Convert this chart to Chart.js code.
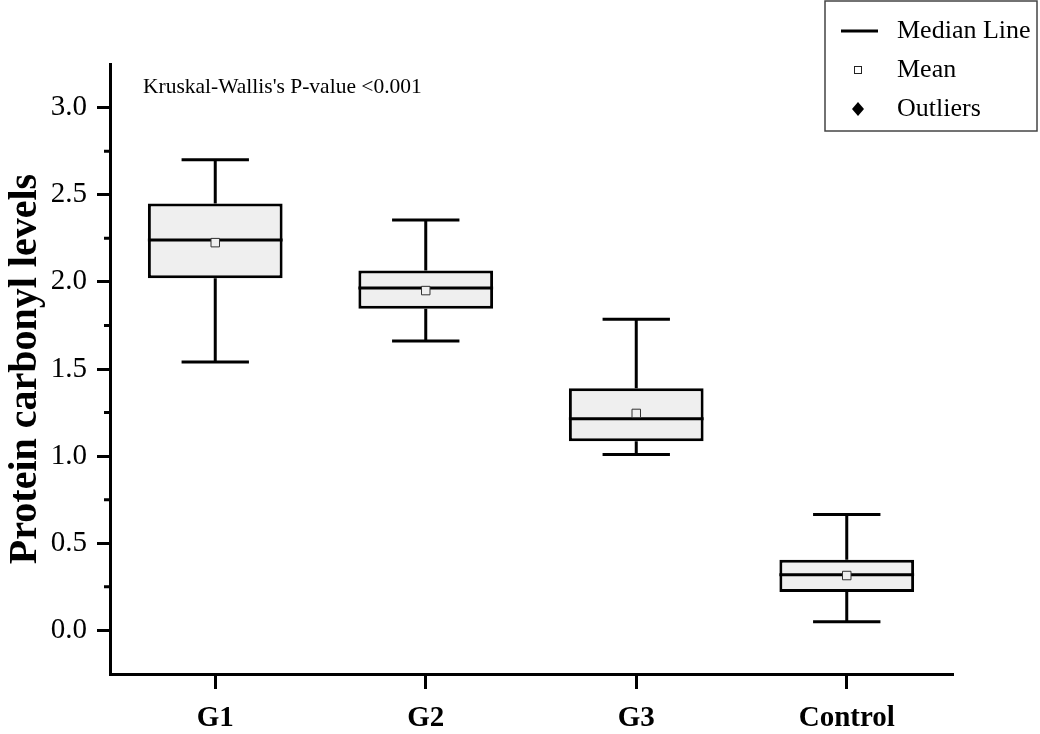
<!DOCTYPE html>
<html>
<head>
<meta charset="utf-8">
<script src="https://cdn.jsdelivr.net/npm/chart.js@4/dist/chart.umd.min.js"></script>
<style>
  body { margin: 0; background: #fff; }
  #wrap { width: 1040px; height: 734px; position: relative; }
</style>
</head>
<body>
<div id="wrap"><canvas id="myChart"></canvas></div>
<script>
// values
const categories = ['G1', 'G2', 'G3', 'Control']
const whiskerLow = [1.54, 1.66, 1.01, 0.05]
const q1 = [2.02, 1.845, 1.085, 0.22]
const medians = [2.24, 1.965, 1.215, 0.32]
const q3 = [2.45, 2.065, 1.39, 0.405]
const whiskerHigh = [2.70, 2.355, 1.785, 0.665]
const means = [2.225, 1.95, 1.245, 0.315]
const minorTicks = [0.25, 0.75, 1.25, 1.75, 2.25, 2.75]

const serif = "'Liberation Serif', 'Times New Roman', serif"

let isMajor = v => {
    let r = Math.round(v * 100) / 100
    return r >= 0 && r <= 3 && Math.abs(r * 2 - Math.round(r * 2)) < 1e-6
}

// whiskers + median on top of the boxes
const boxPlugin = {
    id: 'boxParts',
    afterDatasetDraw(chart, args) {
        if (args.index !== 0) return
        const ctx = chart.ctx
        const y = chart.scales.y
        const meta = args.meta
        ctx.save()
        ctx.strokeStyle = '#000'
        ctx.lineWidth = 3
        meta.data.forEach((bar, i) => {
            const half = bar.width / 2
            const cx = bar.x
            const cap = half / 2
            ctx.beginPath()
            // upper whisker
            ctx.moveTo(cx, y.getPixelForValue(q3[i]))
            ctx.lineTo(cx, y.getPixelForValue(whiskerHigh[i]))
            ctx.moveTo(cx - cap, y.getPixelForValue(whiskerHigh[i]))
            ctx.lineTo(cx + cap, y.getPixelForValue(whiskerHigh[i]))
            // lower whisker
            ctx.moveTo(cx, y.getPixelForValue(q1[i]))
            ctx.lineTo(cx, y.getPixelForValue(whiskerLow[i]))
            ctx.moveTo(cx - cap, y.getPixelForValue(whiskerLow[i]))
            ctx.lineTo(cx + cap, y.getPixelForValue(whiskerLow[i]))
            // median
            ctx.moveTo(cx - half, y.getPixelForValue(medians[i]))
            ctx.lineTo(cx + half, y.getPixelForValue(medians[i]))
            ctx.stroke()
        })
        ctx.restore()
    },
    afterDraw(chart) {
        const ctx = chart.ctx
        const y = chart.scales.y
        ctx.save()
        // minor ticks on y axis
        ctx.strokeStyle = '#000'
        ctx.lineWidth = 3
        ctx.beginPath()
        minorTicks.forEach(v => {
            const py = y.getPixelForValue(v)
            ctx.moveTo(y.right - 6, py)
            ctx.lineTo(y.right, py)
        })
        ctx.stroke()

        // annotation
        ctx.fillStyle = '#000'
        ctx.font = "21.5px " + serif
        ctx.textBaseline = 'middle'
        ctx.textAlign = 'left'
        ctx.fillText("Kruskal-Wallis's P-value <0.001", 143, 87)

        // legend box
        ctx.strokeStyle = '#444'
        ctx.lineWidth = 1.5
        ctx.strokeRect(825, 1, 212, 130)
        ctx.font = "26px " + serif
        ctx.fillText('Median Line', 897, 31)
        ctx.fillText('Mean', 897, 70)
        ctx.fillText('Outliers', 897, 109)
        ctx.strokeStyle = '#000'
        ctx.lineWidth = 3
        ctx.beginPath()
        ctx.moveTo(841, 31)
        ctx.lineTo(878, 31)
        ctx.stroke()
        ctx.lineWidth = 1
        ctx.strokeStyle = '#222'
        ctx.fillStyle = '#fff'
        ctx.fillRect(854.5, 66.5, 7, 7)
        ctx.strokeRect(854.5, 66.5, 7, 7)
        ctx.fillStyle = '#000'
        ctx.beginPath()
        ctx.moveTo(858, 102)
        ctx.lineTo(864, 109)
        ctx.lineTo(858, 116)
        ctx.lineTo(852, 109)
        ctx.closePath()
        ctx.fill()
        ctx.restore()
    }
}

const data = {
    labels: categories,
    datasets: [{
        type: 'bar',
        label: 'Box',
        data: categories.map((c, i) => [q1[i], q3[i]]),
        backgroundColor: '#efefef',
        borderColor: '#000',
        borderWidth: 3,
        borderSkipped: false,
        barPercentage: 0.64,
        categoryPercentage: 1.0,
        order: 2
    }, {
        type: 'line',
        label: 'Mean',
        data: means,
        showLine: false,
        pointStyle: 'rect',
        pointRadius: 6,
        pointBackgroundColor: '#efefef',
        pointBorderColor: '#333',
        pointBorderWidth: 1,
        order: 1
    }]
}

const config = {
    type: 'bar',
    data: data,
    plugins: [boxPlugin],
    options: {
        responsive: true,
        maintainAspectRatio: false,
        animation: false,
        layout: { padding: { top: 64, right: 88, left: 0, bottom: 0 } },
        plugins: {
            legend: { display: false },
            tooltip: { enabled: false }
        },
        scales: {
            x: {
                type: 'category',
                offset: true,
                afterFit: s => { s.height = 60 },
                grid: {
                    offset: false,
                    drawOnChartArea: false,
                    tickLength: 15,
                    lineWidth: 3,
                    color: '#000'
                },
                border: { display: true, color: '#000', width: 3 },
                ticks: {
                    color: '#000',
                    padding: 12,
                    font: { family: serif, size: 29, weight: 'bold' }
                }
            },
            y: {
                min: -0.25,
                max: 3.25,
                afterFit: s => { s.width = 110 },
                grid: {
                    drawOnChartArea: false,
                    tickLength: 13,
                    lineWidth: 3,
                    color: '#000',
                    tickColor: c => isMajor(c.tick.value) ? '#000' : 'rgba(0,0,0,0)'
                },
                border: { display: true, color: '#000', width: 3 },
                ticks: {
                    stepSize: 0.25,
                    autoSkip: false,
                    color: '#000',
                    padding: 10,
                    font: { family: serif, size: 29 },
                    callback: v => isMajor(v) ? (Math.round(v * 10) / 10).toFixed(1) : ''
                },
                title: {
                    display: true,
                    text: 'Protein carbonyl levels',
                    color: '#000',
                    padding: { top: 2, bottom: 0 },
                    font: { family: serif, size: 40, weight: 'bold' }
                }
            }
        }
    }
}

const myChart = new Chart(document.getElementById('myChart'), config)
</script>
</body>
</html>
